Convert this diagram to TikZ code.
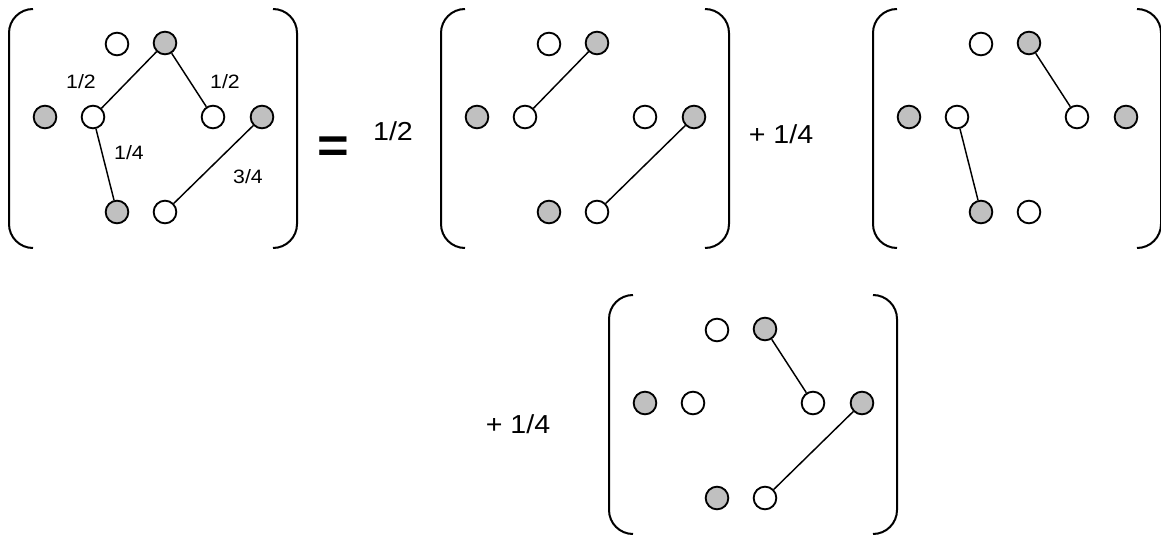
\documentclass[tikz,border=0pt]{standalone}
\usepackage{fontspec}
\setmainfont[FakeStretch=1.1]{Liberation Sans}
\usetikzlibrary{calc}

\definecolor{dotgray}{RGB}{192,192,192}

\tikzset{
    dot/.style={circle, draw, line width=1.4pt, inner sep=0pt, minimum size=17pt},
    wdot/.style={dot, fill=white},
    gdot/.style={dot, fill=dotgray},
    bracket/.style={line width=1.5pt, rounded corners=18pt},
    bond/.style={line width=1.1pt},
    coef/.style={font=\fontsize{19.5}{19.5}\selectfont},
    weight/.style={font=\fontsize{14.5}{14.5}\selectfont}
}

\begin{document}
\begin{tikzpicture}[x=0.75pt, y=-0.75pt]
    \useasboundingbox (0,0) rectangle (1161,535);

    % four bracketed pictures, same dots in each
    \foreach \m/\bx/\by in {1/9/9, 2/441/9, 3/873/9, 4/609/295} {
        \draw[bracket] (\bx+24,\by) -- (\bx,\by) -- (\bx,\by+239) -- (\bx+24,\by+239);
        \draw[bracket] (\bx+264,\by) -- (\bx+288,\by) -- (\bx+288,\by+239) -- (\bx+264,\by+239);
        \node[wdot] (m\m-a) at (\bx+108,\by+35) {};
        \node[gdot] (m\m-b) at (\bx+156,\by+34) {};
        \node[gdot] (m\m-c) at (\bx+36,\by+108) {};
        \node[wdot] (m\m-d) at (\bx+84,\by+108) {};
        \node[wdot] (m\m-e) at (\bx+204,\by+108) {};
        \node[gdot] (m\m-f) at (\bx+253,\by+108) {};
        \node[gdot] (m\m-g) at (\bx+108,\by+203) {};
        \node[wdot] (m\m-h) at (\bx+156,\by+203) {};
    }

    % bonds
    \draw[bond] (m1-b) -- (m1-d);
    \draw[bond] (m1-b) -- (m1-e);
    \draw[bond] (m1-d) -- (m1-g);
    \draw[bond] (m1-f) -- (m1-h);
    \draw[bond] (m2-b) -- (m2-d);
    \draw[bond] (m2-f) -- (m2-h);
    \draw[bond] (m3-b) -- (m3-e);
    \draw[bond] (m3-d) -- (m3-g);
    \draw[bond] (m4-b) -- (m4-e);
    \draw[bond] (m4-f) -- (m4-h);

    % weights
    \node[weight] (w-bd) at (81,82) {1/2};
    \node[weight] (w-be) at (225,82) {1/2};
    \node[weight] (w-dg) at (129,153) {1/4};
    \node[weight] (w-fh) at (248,177) {3/4};

    \node (eq) at (333,150) {\fontsize{37}{37}\selectfont\bfseries =};
    \node[coef] (c2) at (393,131) {1/2};
    \node[coef] (c3) at (781,134) {+ 1/4};
    \node[coef] (c4) at (518,424) {+ 1/4};
\end{tikzpicture}
\end{document}
